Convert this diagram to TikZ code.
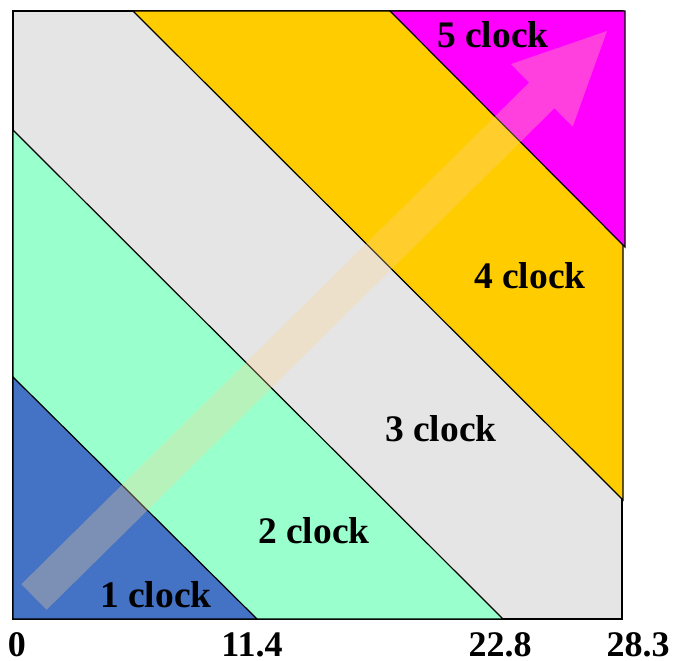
\documentclass[tikz,border=0pt]{standalone}
\usepackage{fontspec}
\setmainfont{Liberation Serif}
\definecolor{cblue}{RGB}{68,114,196}
\definecolor{cgreen}{RGB}{153,255,204}
\definecolor{cgray}{RGB}{229,229,229}
\definecolor{cyellow}{RGB}{255,204,0}
\definecolor{cmag}{RGB}{255,0,255}
\definecolor{carrow}{RGB}{255,213,146}
\begin{document}
\begin{tikzpicture}[x=1pt,y=-1pt,
  region/.style={draw=black,line width=1.2pt,line join=miter},
  lbl/.style={inner sep=0pt,anchor=base west,font=\fontsize{37.5}{40}\selectfont\bfseries},
  axlbl/.style={inner sep=0pt,anchor=base,font=\fontsize{36}{40}\selectfont\bfseries}]
\useasboundingbox (0,0) rectangle (676,660);
% regions
\fill[cgray,region] (13,11) rectangle (622,619);
\fill[cgreen,region] (13,130) -- (503,619) -- (13,619) -- cycle;
\fill[cblue,region] (13,377) -- (257,619) -- (13,619) -- cycle;
\fill[cyellow,region] (133,11) -- (623,11) -- (623,500) -- cycle;
\fill[cmag,region] (390,11) -- (625,11) -- (625,247) -- cycle;
% translucent arrow
\fill[carrow,fill opacity=0.3] (21.4,584.2) -- (529.2,82.6) -- (510.9,64.1) -- (607,31)
  -- (572.7,126.7) -- (554.5,108.2) -- (46.6,609.8) -- cycle;
% labels
\node[lbl] (c1) at (100,607) {1 clock};
\node[lbl] (c2) at (258,543) {2 clock};
\node[lbl] (c3) at (385,441) {3 clock};
\node[lbl] (c4) at (474,288) {4 clock};
\node[lbl] (c5) at (437,48) {5 clock};
\node[axlbl] (a0) at (17,656) {0};
\node[axlbl] (a1) at (252,656) {11.4};
\node[axlbl] (a2) at (500,656) {22.8};
\node[axlbl] (a3) at (638,656) {28.3};
\end{tikzpicture}
\end{document}
